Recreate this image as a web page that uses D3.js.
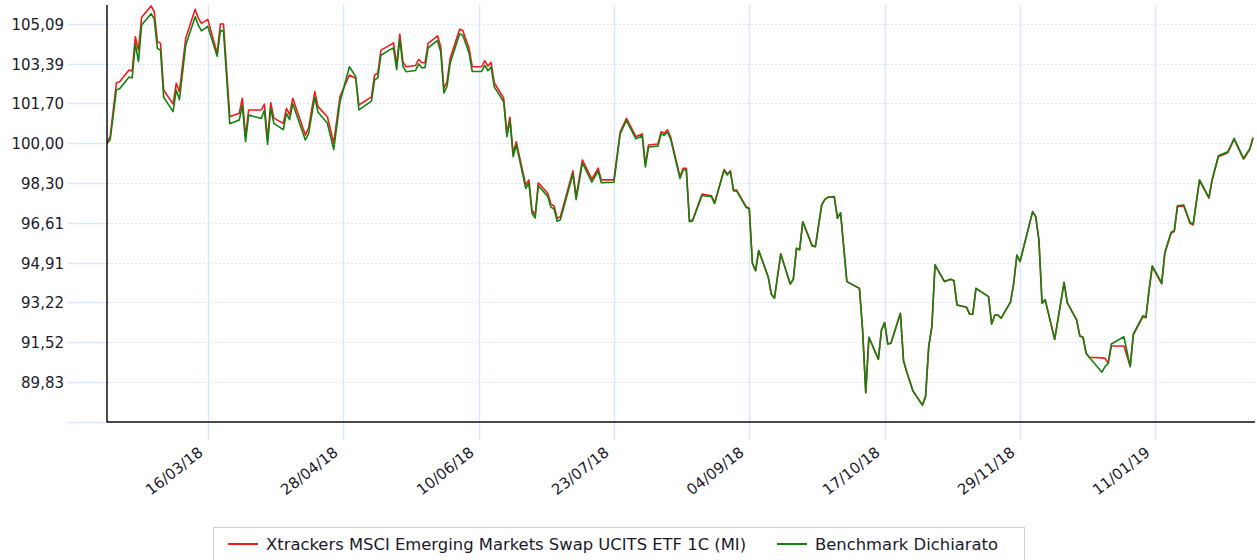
<!DOCTYPE html>
<html>
<head>
<meta charset="utf-8">
<script src="https://cdn.jsdelivr.net/npm/d3@7"></script>
<style>
  html, body { margin: 0; padding: 0; background: #fff; }
  svg { display: block; }
  text { font-family: "DejaVu Sans", Verdana, sans-serif; fill: #1a1a2a; }
</style>
</head>
<body>
<svg id="chart" width="1257" height="560"></svg>
<script>
// ---------------- DATA ----------------
const dates = [
"2018-02-12","2018-02-13","2018-02-15","2018-02-16","2018-02-19","2018-02-20","2018-02-21","2018-02-22","2018-02-23",
"2018-02-26","2018-02-27","2018-02-28","2018-03-01","2018-03-02","2018-03-05","2018-03-06","2018-03-07","2018-03-09",
"2018-03-12","2018-03-13","2018-03-14","2018-03-16","2018-03-19","2018-03-20","2018-03-21","2018-03-23","2018-03-26",
"2018-03-27","2018-03-28","2018-03-29","2018-04-02","2018-04-03","2018-04-04","2018-04-05","2018-04-06","2018-04-09",
"2018-04-10","2018-04-11","2018-04-12","2018-04-16","2018-04-17","2018-04-19","2018-04-20","2018-04-23","2018-04-25",
"2018-04-27","2018-04-30","2018-05-02","2018-05-03","2018-05-07","2018-05-08","2018-05-09","2018-05-10","2018-05-13",
"2018-05-14","2018-05-15","2018-05-16","2018-05-17","2018-05-18","2018-05-21","2018-05-22","2018-05-23","2018-05-24",
"2018-05-25","2018-05-28","2018-05-29","2018-05-30","2018-05-31","2018-06-01","2018-06-04","2018-06-05","2018-06-07",
"2018-06-08","2018-06-11","2018-06-12","2018-06-13","2018-06-14","2018-06-15","2018-06-18","2018-06-19","2018-06-20",
"2018-06-21","2018-06-22","2018-06-25","2018-06-26","2018-06-27","2018-06-28","2018-06-29","2018-07-02","2018-07-03",
"2018-07-04","2018-07-05","2018-07-06","2018-07-10","2018-07-11","2018-07-13","2018-07-16","2018-07-18","2018-07-19",
"2018-07-23","2018-07-25","2018-07-27","2018-07-30","2018-08-01","2018-08-02","2018-08-03","2018-08-06","2018-08-07",
"2018-08-08","2018-08-09","2018-08-10","2018-08-13","2018-08-14","2018-08-15","2018-08-16","2018-08-17","2018-08-20",
"2018-08-23","2018-08-24","2018-08-27","2018-08-28","2018-08-29","2018-08-30","2018-08-31","2018-09-03","2018-09-04",
"2018-09-05","2018-09-06","2018-09-07","2018-09-10","2018-09-11","2018-09-12","2018-09-14","2018-09-17","2018-09-18",
"2018-09-19","2018-09-20","2018-09-21","2018-09-24","2018-09-25","2018-09-27","2018-09-28","2018-09-29","2018-10-01",
"2018-10-02","2018-10-03","2018-10-05","2018-10-09","2018-10-10","2018-10-11","2018-10-12","2018-10-15","2018-10-16",
"2018-10-17","2018-10-18","2018-10-19","2018-10-22","2018-10-23","2018-10-24","2018-10-26","2018-10-29","2018-10-30",
"2018-10-31","2018-11-01","2018-11-02","2018-11-05","2018-11-07","2018-11-08","2018-11-09","2018-11-12","2018-11-13",
"2018-11-14","2018-11-15","2018-11-19","2018-11-20","2018-11-21","2018-11-22","2018-11-23","2018-11-26","2018-11-27",
"2018-11-28","2018-11-29","2018-12-03","2018-12-04","2018-12-05","2018-12-06","2018-12-07","2018-12-10","2018-12-13",
"2018-12-14","2018-12-17","2018-12-18","2018-12-19","2018-12-20","2018-12-21","2018-12-25","2018-12-26","2018-12-27",
"2018-12-28","2019-01-01","2019-01-03","2019-01-04","2019-01-07","2019-01-08","2019-01-09","2019-01-10","2019-01-13",
"2019-01-14","2019-01-16","2019-01-17","2019-01-18","2019-01-20","2019-01-22","2019-01-23","2019-01-25","2019-01-28",
"2019-01-29","2019-01-31","2019-02-03","2019-02-05","2019-02-08","2019-02-10","2019-02-11"
];

const fundValues = [
100.05,100.28,102.58,102.62,103.12,103.08,104.54,103.97,105.37,
105.85,105.61,104.33,104.26,102.27,101.67,102.56,102.20,104.47,
105.71,105.33,105.11,105.28,103.83,105.08,105.08,101.13,101.28,
101.92,100.28,101.42,101.42,101.67,100.14,101.73,101.07,100.85,
101.49,101.21,101.92,100.35,100.64,102.20,101.56,101.13,100.01,
101.99,102.91,102.77,101.63,101.98,102.91,102.98,103.97,104.19,
104.28,103.33,104.65,103.47,103.26,103.31,103.58,103.43,103.43,
104.26,104.58,104.11,102.34,102.62,103.62,104.86,104.80,104.05,
103.26,103.26,103.52,103.29,103.45,102.58,101.92,100.43,101.11,
99.57,100.07,98.22,98.44,97.16,96.95,98.32,97.87,97.41,
97.33,96.81,96.87,98.83,97.73,99.29,98.47,98.94,98.44,
98.44,100.49,101.06,100.28,100.40,99.08,99.93,99.97,100.49,
100.43,100.57,100.28,98.58,98.94,98.94,96.70,96.73,97.84,
97.76,97.47,98.89,98.69,98.83,98.01,98.01,97.30,97.23,
94.89,94.57,95.43,94.32,93.58,93.40,95.29,94.01,94.21,
95.53,95.46,96.66,95.63,95.60,97.37,97.61,97.70,97.73,
96.81,97.04,94.11,93.82,92.05,89.38,91.74,90.80,92.05,
92.36,91.45,91.48,92.76,90.74,90.27,89.45,88.85,89.21,
91.34,92.19,94.82,94.11,94.21,94.15,93.11,93.02,92.72,
92.72,93.82,93.47,92.30,92.69,92.69,92.55,93.25,94.04,
95.24,94.96,97.09,96.87,95.88,93.19,93.33,91.65,94.08,
93.21,92.47,91.79,91.74,91.06,90.89,90.86,90.84,90.63,
91.37,91.37,90.49,91.84,92.61,92.57,93.75,94.74,94.01,
95.32,96.17,96.24,97.30,97.33,96.59,96.52,98.41,97.66,
98.41,99.43,99.60,100.17,99.32,99.74,100.21
];

const benchmarkValues = [
100.00,100.15,102.28,102.32,102.82,102.78,104.24,103.48,105.04,
105.52,105.30,104.04,103.97,101.96,101.35,102.27,101.86,104.18,
105.39,105.03,104.79,104.98,103.71,104.80,104.79,100.83,100.99,
101.62,100.07,101.20,101.06,101.41,99.95,101.50,100.85,100.58,
101.27,101.01,101.68,100.14,100.40,101.96,101.33,100.85,99.73,
101.76,103.26,102.84,101.42,101.80,102.70,102.78,103.75,104.00,
104.06,103.14,104.45,103.28,103.05,103.10,103.38,103.22,103.22,
104.06,104.38,103.90,102.14,102.42,103.42,104.66,104.60,103.85,
103.06,103.06,103.32,103.09,103.25,102.40,101.77,100.28,100.96,
99.43,99.93,98.08,98.30,97.02,96.82,98.19,97.74,97.28,
97.20,96.68,96.74,98.70,97.60,99.16,98.35,98.82,98.32,
98.34,100.40,100.97,100.19,100.31,98.99,99.84,99.88,100.40,
100.34,100.48,100.19,98.50,98.86,98.86,96.66,96.69,97.78,
97.72,97.43,98.85,98.65,98.79,97.97,97.97,97.27,97.20,
94.89,94.57,95.43,94.32,93.58,93.40,95.29,94.01,94.21,
95.53,95.46,96.66,95.63,95.60,97.37,97.61,97.70,97.73,
96.81,97.04,94.11,93.82,92.05,89.38,91.74,90.80,92.05,
92.36,91.45,91.48,92.76,90.74,90.27,89.45,88.85,89.21,
91.34,92.19,94.82,94.11,94.21,94.15,93.11,93.02,92.72,
92.72,93.82,93.47,92.30,92.69,92.69,92.55,93.25,94.04,
95.24,94.96,97.09,96.87,95.88,93.19,93.33,91.65,94.08,
93.21,92.47,91.79,91.74,91.06,90.89,90.25,90.49,90.63,
91.45,91.76,90.49,91.88,92.65,92.61,93.79,94.78,94.05,
95.36,96.21,96.28,97.34,97.37,96.63,96.56,98.45,97.70,
98.45,99.47,99.64,100.21,99.36,99.78,100.25
];

const seriesNames = ["Xtrackers MSCI Emerging Markets Swap UCITS ETF 1C (MI)", "Benchmark Dichiarato"];
const seriesColors = ["#f51a1a", "#13800f"];

const yTickValues = [88.13, 89.83, 91.52, 93.22, 94.91, 96.61, 98.30, 100.00, 101.70, 103.39, 105.09];
const yTickLabels = ["", "89,83", "91,52", "93,22", "94,91", "96,61", "98,30", "100,00", "101,70", "103,39", "105,09"];
const xTickDates = ["2018-03-16","2018-04-28","2018-06-10","2018-07-23","2018-09-04","2018-10-17","2018-11-29","2019-01-11"];
const xDomain = ["2018-02-12", "2019-02-11"];
const yDomain = [88.13, 105.89];

// ---------------- CHART ----------------
const parse = d3.utcParse("%Y-%m-%d");
const fmt = d3.utcFormat("%d/%m/%y");
const svg = d3.select("#chart");

const plotL = 107, plotR = 1253, plotT = 5, plotB = 422;
const x = d3.scaleUtc().domain(xDomain.map(parse)).range([plotL, plotR]);
const y = d3.scaleLinear().domain(yDomain).range([plotB, plotT]);

const gridColor = "#dbe7f6";

// horizontal gridlines (dotted) + left tick marks (solid)
const gy = svg.append("g");
yTickValues.forEach((v, i) => {
  const yy = Math.round(y(v)) + 0.5;
  gy.append("line").attr("x1", 68).attr("x2", plotL).attr("y1", yy).attr("y2", yy)
    .attr("stroke", gridColor).attr("stroke-width", 1.5);
  gy.append("line").attr("x1", plotL).attr("x2", 1256).attr("y1", yy).attr("y2", yy)
    .attr("stroke", gridColor).attr("stroke-width", 1.2).attr("stroke-dasharray", "2,2");
  gy.append("text").attr("x", 64).attr("y", yy).attr("dy", "0.36em")
    .attr("text-anchor", "end").style("font-size", "15px").text(yTickLabels[i]);
});

// vertical gridlines + x labels
const gx = svg.append("g");
xTickDates.map(parse).forEach(d => {
  const xx = Math.round(x(d)) + 0.5;
  gx.append("line").attr("x1", xx).attr("x2", xx).attr("y1", plotT).attr("y2", 440)
    .attr("stroke", gridColor).attr("stroke-width", 1.5);
  gx.append("text")
    .attr("transform", `translate(${xx - 11},${446}) rotate(-38)`)
    .attr("text-anchor", "end").attr("dy", "0.7em").style("font-size", "15px").text(fmt(d));
});

// lines
const line = d3.line().x(d => x(d[0])).y(d => y(d[1]));
const parsedDates = dates.map(parse);
[fundValues, benchmarkValues].forEach((vals, i) => {
  svg.append("path")
    .datum(parsedDates.map((d, j) => [d, vals[j]]))
    .attr("fill", "none").attr("stroke", seriesColors[i])
    .attr("stroke-width", 1.6).attr("stroke-linejoin", "round")
    .attr("d", line);
});

// axes lines
svg.append("line").attr("x1", plotL).attr("x2", plotL).attr("y1", plotT).attr("y2", plotB + 0.5)
  .attr("stroke", "#111").attr("stroke-width", 1.5);
svg.append("line").attr("x1", plotL).attr("x2", 1255).attr("y1", plotB).attr("y2", plotB)
  .attr("stroke", "#111").attr("stroke-width", 1.5);

// legend
const lg = svg.append("g");
lg.append("rect").attr("x", 213.5).attr("y", 527.5).attr("width", 811).attr("height", 50)
  .attr("fill", "#fff").attr("stroke", "#cfcfcf");
const legendX = [228, 777];
seriesNames.forEach((n, i) => {
  lg.append("line").attr("x1", legendX[i]).attr("x2", legendX[i] + 30).attr("y1", 544).attr("y2", 544)
    .attr("stroke", seriesColors[i]).attr("stroke-width", 2);
  lg.append("text").attr("x", legendX[i] + 38).attr("y", 549.5)
    .style("font-size", "16.4px").text(n);
});
</script>
</body>
</html>
